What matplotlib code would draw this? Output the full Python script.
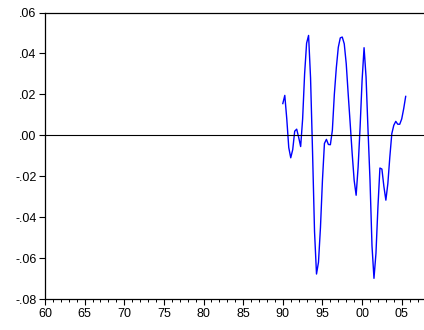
import matplotlib
matplotlib.use("Agg")
import matplotlib.pyplot as plt
import numpy as np
from matplotlib.ticker import MultipleLocator, FuncFormatter

start_year = 1990.0
step = 0.25
values = [
    0.0155, 0.0195, 0.008, -0.006,
    -0.011, -0.007, 0.002, 0.003,
    -0.001, -0.0055, 0.008, 0.030,
    0.045, 0.0488, 0.028, -0.008,
    -0.047, -0.0678, -0.062, -0.045,
    -0.022, -0.004, -0.002, -0.0045,
    -0.0046, 0.0024, 0.020, 0.033,
    0.043, 0.0476, 0.048, 0.0447,
    0.035, 0.020, 0.0057, -0.0089,
    -0.022, -0.0293, -0.0155, 0.004,
    0.0268, 0.0428, 0.0285, 0.0024,
    -0.022, -0.054, -0.0699, -0.0577,
    -0.035, -0.016, -0.0165, -0.025,
    -0.0317, -0.0236, -0.0106, 0.0008,
    0.0049, 0.0068, 0.0054, 0.0054,
    0.008, 0.013, 0.019,
]
x_tick_labels = ["60", "65", "70", "75", "80", "85", "90", "95", "00", "05"]
x_ticks = [1960, 1965, 1970, 1975, 1980, 1985, 1990, 1995, 2000, 2005]
y_ticks = [-0.08, -0.06, -0.04, -0.02, 0.00, 0.02, 0.04, 0.06]

plt.rcParams['font.family'] = ['Liberation Sans', 'DejaVu Sans']

years = start_year + step * np.arange(len(values))

fig = plt.figure(figsize=(4.24, 3.30), dpi=100)
W, H = 424, 330
left, right, top, bottom = 45, 425.5, 12.5, 299
ax = fig.add_axes([left / W, 1 - bottom / H, (right - left) / W, (bottom - top) / H])

ax.plot(years, values, color='#0000ff', lw=1.0)
ax.axhline(0, color='black', lw=0.8)

ax.set_xlim(1960, 2008)
ax.set_ylim(-0.08, 0.06)
ax.set_xticks(x_ticks)
ax.set_xticklabels(x_tick_labels)
ax.xaxis.set_minor_locator(MultipleLocator(1))
ax.set_yticks(y_ticks)

def yfmt(v, pos):
    s = f"{v:.2f}"
    s = s.replace("0.", ".")
    if s == "-.00":
        s = ".00"
    return s
ax.yaxis.set_major_formatter(FuncFormatter(yfmt))

for sp in ax.spines.values():
    sp.set_linewidth(0.9)
ax.spines['right'].set_visible(False)

ax.tick_params(axis='both', which='major', direction='out', length=4, width=0.8,
               labelsize=9, pad=2)
ax.tick_params(axis='x', which='minor', direction='out', length=2.5, width=0.7)
ax.tick_params(axis='x', which='major', length=4.5)

fig.savefig("out.png", dpi=100)
